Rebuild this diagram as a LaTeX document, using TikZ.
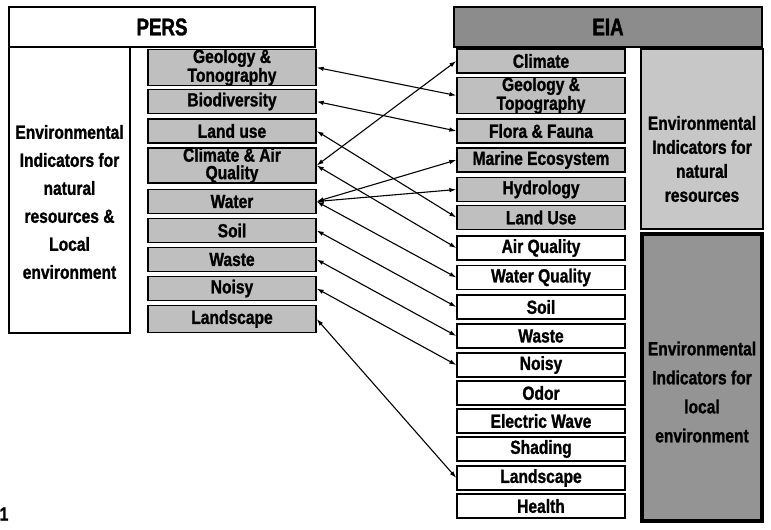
\documentclass[tikz,border=0pt]{standalone}
\usepackage{fontspec}
\setmainfont{Liberation Sans}
\newfontfamily\lblfont{Liberation Sans}[FakeStretch=0.82, BoldFeatures={FakeBold=1.2}]
\newfontfamily\ttlfont{Liberation Sans}[FakeStretch=0.78, BoldFeatures={FakeBold=1.5}]
\usetikzlibrary{arrows.meta}
\begin{document}
\begin{tikzpicture}[x=1pt,y=-1pt,
  item/.style={draw=black, line width=1.3pt, minimum width=168pt, minimum height=24pt,
    inner sep=0pt, align=center, font=\lblfont\bfseries\fontsize{19}{17.5}\selectfont},
  grayitem/.style={item, fill=black!25},
  whiteitem/.style={item, fill=white},
  tallitem/.style={minimum height=35pt},
  header/.style={draw=black, line width=2.6pt, inner sep=0pt,
    font=\ttlfont\bfseries\fontsize{24}{24}\selectfont},
  bigtext/.style={align=center, inner sep=0pt, font=\lblfont\bfseries\fontsize{19}{28}\selectfont},
  link/.style={{Latex[length=7pt,width=4.5pt]}-{Latex[length=7pt,width=4.5pt]}, line width=1.1pt},
]
\useasboundingbox (0,0) rectangle (771,530);

% ---------- PERS side ----------
\node[header, fill=white, minimum width=306pt, minimum height=40pt] (pers) at (162,27) {PERS};
\node[draw=black, line width=2.6pt, fill=white, minimum width=121pt, minimum height=286pt, inner sep=0pt] (lbox) at (69.5,190) {};
\node[bigtext] (ltext) at (69.5,202) {Environmental\\Indicators for\\natural\\resources \&\\Local\\environment};

\node[grayitem, tallitem] (lgeo)   at (232,67.5)  {Geology \&\\Tonography};
\node[grayitem]           (lbio)   at (232,101.5) {Biodiversity};
\node[grayitem]           (lland)  at (232,131)   {Land use};
\node[grayitem, tallitem] (lclim)  at (232,165.5) {Climate \& Air\\Quality};
\node[grayitem]           (lwater) at (232,201.5) {Water};
\node[grayitem]           (lsoil)  at (232,230.5) {Soil};
\node[grayitem]           (lwaste) at (232,259.5) {Waste};
\node[grayitem]           (lnoisy) at (232,288.5) {Noisy};
\node[grayitem, minimum height=27pt] (llandsc) at (232,319) {Landscape};

% ---------- EIA side ----------
\node[header, fill=black!45, minimum width=308pt, minimum height=40pt] (eia) at (608,27) {EIA};

\node[grayitem]           (rclim)    at (541,61)    {Climate};
\node[grayitem, tallitem] (rgeo)     at (541,95.5)  {Geology \&\\Topography};
\node[grayitem]           (rflora)   at (541,131)   {Flora \& Fauna};
\node[grayitem]           (rmarine)  at (541,160)   {Marine Ecosystem};
\node[grayitem]           (rhydro)   at (541,189.5) {Hydrology};
\node[grayitem]           (rlanduse) at (541,217.5) {Land Use};
\node[whiteitem]          (rair)     at (541,248)   {Air Quality};
\node[whiteitem]          (rwq)      at (541,277.5) {Water Quality};
\node[whiteitem]          (rsoil)    at (541,307)   {Soil};
\node[whiteitem]          (rwaste)   at (541,336)   {Waste};
\node[whiteitem]          (rnoisy)   at (541,365)   {Noisy};
\node[whiteitem]          (rodor)    at (541,393)   {Odor};
\node[whiteitem]          (rew)      at (541,421)   {Electric Wave};
\node[whiteitem]          (rshade)   at (541,449)   {Shading};
\node[whiteitem]          (rlandsc)  at (541,478)   {Landscape};
\node[whiteitem]          (rhealth)  at (541,506)   {Health};

\node[draw=black, line width=1.2pt, fill=black!22, minimum width=122pt, minimum height=180pt, inner sep=0pt] (rnat) at (702,139) {};
\node[bigtext, font=\lblfont\bfseries\fontsize{19}{24}\selectfont] (rnattext) at (702,159) {Environmental\\Indicators for\\natural\\resources};

\node[draw=black, line width=3.5pt, fill=black!42, minimum width=120pt, minimum height=287pt, inner sep=0pt] (rloc) at (702,377.5) {};
\node[bigtext, font=\lblfont\bfseries\fontsize{19}{29}\selectfont] (rloctext) at (702,392) {Environmental\\Indicators for\\local\\environment};

\node[inner sep=0pt, font=\lblfont\bfseries\fontsize{19}{19}\selectfont] (fignum) at (4,514) {1};

% ---------- links ----------
\draw[link] (lgeo.east)    -- (rgeo.west);
\draw[link] (lbio.east)    -- (rflora.west);
\draw[link] (lland.east)   -- (rlanduse.west);
\draw[link] (lclim.east)   -- (rclim.west);
\draw[link] (lclim.east)   -- (rair.west);
\draw[link] (lwater.east)  -- (rmarine.west);
\draw[link] (lwater.east)  -- (rhydro.west);
\draw[link] (lwater.east)  -- (rwq.west);
\draw[link] (lsoil.east)   -- (rsoil.west);
\draw[link] (lwaste.east)  -- (rwaste.west);
\draw[link] (lnoisy.east)  -- (rnoisy.west);
\draw[link] (llandsc.east) -- (rlandsc.west);
\end{tikzpicture}
\end{document}
